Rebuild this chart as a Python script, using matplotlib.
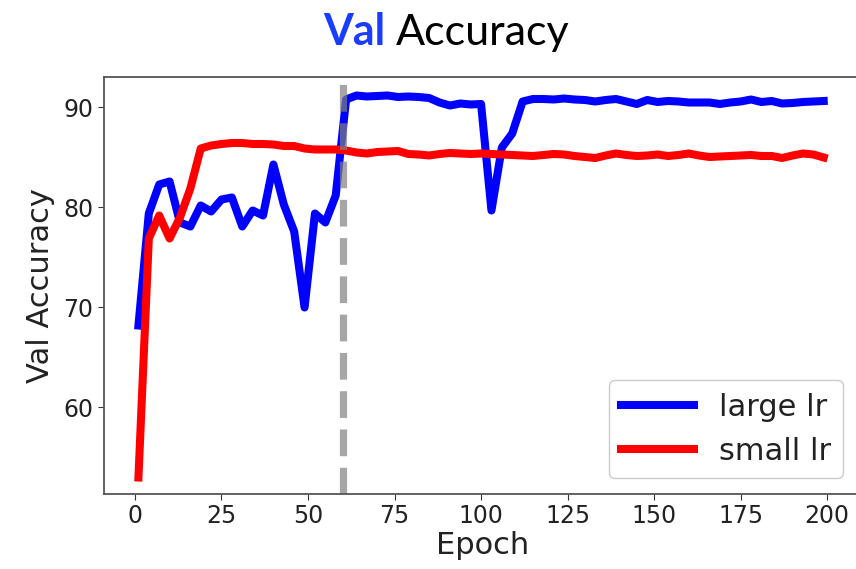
import matplotlib
matplotlib.use("Agg")
import matplotlib.pyplot as plt

epochs = list(range(1, 200, 3))

large_lr = [68.2, 79.4, 82.3, 82.6, 78.5, 78.1, 80.2, 79.6, 80.8, 81.0,
            78.1, 79.7, 79.2, 84.3, 80.3, 77.6, 70.0, 79.4, 78.5, 81.2,
            90.8, 91.2, 91.1, 91.15, 91.2, 91.05, 91.1, 91.05, 90.95, 90.5,
            90.2, 90.4, 90.3, 90.35, 79.7, 86.0, 87.4, 90.6, 90.85, 90.85,
            90.8, 90.9, 90.8, 90.75, 90.6, 90.75, 90.85, 90.6, 90.35, 90.75,
            90.55, 90.65, 90.6, 90.5, 90.5, 90.5, 90.35, 90.5, 90.6, 90.8,
            90.55, 90.65, 90.4, 90.45, 90.55, 90.6, 90.65]

small_lr = [53.0, 76.9, 79.2, 76.9, 79.0, 81.9, 85.9, 86.2, 86.35, 86.45,
            86.45, 86.35, 86.35, 86.3, 86.15, 86.15, 85.9, 85.8, 85.8, 85.8,
            85.7, 85.5, 85.4, 85.55, 85.6, 85.65, 85.35, 85.3, 85.2, 85.35,
            85.45, 85.4, 85.35, 85.4, 85.35, 85.3, 85.25, 85.2, 85.15, 85.25,
            85.35, 85.3, 85.15, 85.05, 84.95, 85.2, 85.4, 85.25, 85.15, 85.2,
            85.3, 85.15, 85.25, 85.4, 85.2, 85.05, 85.1, 85.15, 85.2, 85.25,
            85.15, 85.15, 84.95, 85.2, 85.4, 85.3, 85.0]

switch_epoch = 60
xticks = [0, 25, 50, 75, 100, 125, 150, 175, 200]
yticks = [60, 70, 80, 90]

fig = plt.figure(figsize=(8.56, 5.69), dpi=100)
W, H = 856, 569
ax = fig.add_axes([104 / W, 1 - 494 / H, 757.6 / W, 417 / H])

ax.plot(epochs, large_lr, color="#0000ff", lw=5.8, label="large lr")
ax.plot(epochs, small_lr, color="#ff0000", lw=5.8, label="small lr")
ax.axvline(switch_epoch, color="gray", alpha=0.7, lw=5.2, ls="--")

ax.set_xlim(-8.95, 209.95)
ax.set_ylim(51.35, 93.05)
ax.set_xticks(xticks)
ax.set_yticks(yticks)
ax.tick_params(labelsize=17, length=4, color="#333333", labelcolor="#222222")
for s in ax.spines.values():
    s.set_color("#555555")
    s.set_linewidth(1.3)
ax.spines["right"].set_visible(False)

ax.set_xlabel("Epoch", fontsize=22, labelpad=2, color="#222222")
ax.set_ylabel("Val Accuracy", fontsize=22, labelpad=6, color="#222222")

leg = ax.legend(loc="lower right", bbox_to_anchor=((843 - 104) / 757.6, (494 - 478) / 417),
                borderaxespad=0, fontsize=22, handlelength=2.4, framealpha=1,
                edgecolor="#cccccc")
for t in leg.get_texts():
    t.set_color("#222222")

fig.text(385 / W, 1 - 45 / H, "Val", fontsize=31, fontfamily="Lato", fontweight="bold",
         color="#1a3cff", ha="right", va="baseline")
fig.text(396 / W, 1 - 45 / H, "Accuracy", fontsize=31, fontfamily="Lato",
         color="black", ha="left", va="baseline")

fig.savefig("out.png", dpi=100)
